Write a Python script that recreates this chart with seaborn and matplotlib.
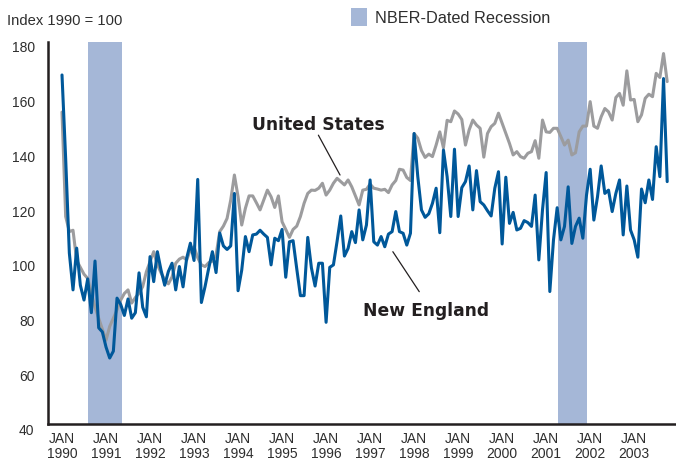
import numpy as np
import pandas as pd
import matplotlib
matplotlib.use("Agg")
import matplotlib.pyplot as plt
import seaborn as sns
from matplotlib.patches import Patch

# ---------------- data ----------------
years = list(range(1990, 2004))
tick_labels = [f"JAN\n{y}" for y in years]
y_ticks = [60, 80, 100, 120, 140, 160, 180]

# recession spans, in months since Jan 1990
recession_spans = [(7.1, 16.4), (135.3, 143.1)]

new_england = [
    169.5, 139, 104.7, 91.3, 106.5, 93, 87.6, 95.3, 83, 101.8, 77.5, 76,
    70.5, 66.5, 69, 88.3, 86, 82, 88, 81, 83, 97.5, 85, 81.5,
    103.4, 94.3, 105.2, 98.5, 93, 98, 101, 91.3, 99.8, 92.4, 102.9, 108.3,
    102, 131.5, 86.7, 92.5, 99.2, 105.2, 97.6, 112, 107.3, 106, 107.3, 126.4,
    91, 98.5, 110.7, 105.2, 111.3, 111.6, 113, 111.6, 110.4, 100.4, 110.1, 109.2,
    113.3, 95.9, 108.8, 109.2, 99, 89.2, 89.2, 110.4, 99.3, 92.7, 101, 101,
    79.5, 99.5, 100.4, 109, 118.2, 103.6, 106.4, 112.5, 108.5, 120.4, 109.5, 114.9,
    131.3, 108.8, 107.6, 110.7, 107, 111.6, 112.5, 119.8, 112.5, 111.9, 107.6, 111.9,
    148.2, 132.5, 120.4, 117.7, 119, 122.8, 128.3, 112.1, 142.2, 132.5, 118, 142.5,
    118, 128.5, 130.7, 136.4, 120.4, 134.7, 123.4, 122.2, 120.1, 118.2, 128.3, 134.3,
    108, 132.3, 115.5, 119.5, 113.1, 113.7, 116.5, 115.8, 114.4, 125.8, 102.2, 120.4,
    134, 90.7, 109.5, 121.2, 109.5, 114.4, 128.8, 108.2, 114.4, 117.4, 110.1, 125.8,
    135.2, 116.7, 125.2, 136.4, 126.4, 127.6, 119.8, 126.4, 131.3, 111.3, 129.1, 113.1,
    109.5, 103.2, 128, 123, 131.3, 124.2, 143.4, 132.5, 168.2, 130.7,
]

united_states = [
    156, 118, 112.5, 113, 102, 99.5, 97, 95.5, 90, 85, 81, 77,
    73, 78, 81, 84, 87.6, 90, 91.3, 86.5, 88.5, 90.1, 92.5, 97.9,
    101.5, 105.2, 100.5, 97.5, 95, 93.5, 96, 101, 102.5, 103.2, 102.2, 106,
    107, 103, 100.4, 99.8, 101.2, 101.8, 104, 112.5, 114.5, 117.3, 124, 133.1,
    125.2, 114.9, 121, 125.5, 125.5, 123, 120.4, 124, 127.6, 125.2, 121.3, 125.5,
    116.1, 113.3, 110.4, 113.3, 114.5, 118, 122.8, 126.4, 127.6, 127.5, 128.3, 130.1,
    125.8, 127.6, 130.1, 131.9, 130.7, 129.5, 131.3, 128.8, 125.5, 122.2, 127.6, 127.9,
    129.8, 128.3, 128, 127.6, 127.9, 126.7, 129.5, 131.1, 135.2, 134.9, 132.2, 131.1,
    148.2, 146.5, 142, 139.5, 140.7, 139.8, 144, 148.8, 143, 153, 152.5, 156.4,
    155.3, 153.3, 144, 149.5, 153.1, 151.3, 150.1, 139.6, 148.2, 150.7, 151.9, 155.6,
    151.9, 148.2, 144.6, 140.4, 141.6, 139.8, 139.2, 141, 141.6, 145.6, 139.2, 153.1,
    148.8, 148.6, 150.1, 150.1, 147.1, 144, 145.8, 140.4, 141.2, 148.8, 150.9, 150.9,
    159.8, 150.9, 150.1, 154.3, 157.3, 156.1, 153.1, 161.3, 162.8, 158.5, 171, 160.4,
    160.6, 152.5, 155, 161, 162.5, 161.6, 170.1, 168.6, 177.3, 167.1,
]

# ---------------- style ----------------
BLUE = "#00589a"
GRAY = "#9c9c9e"
REC = "#a5b7d7"
DARK = "#231f20"
TEXT = "#2e2e2e"

sns.set_style("white")
plt.rcParams["font.family"] = ["Liberation Sans", "DejaVu Sans"]

n = len(new_england)
months = np.arange(n)
df = pd.DataFrame({
    "month": np.concatenate([months, months]),
    "value": united_states + new_england,
    "series": ["United States"] * n + ["New England"] * n,
})

W, H = 676, 462
fig = plt.figure(figsize=(W / 100, H / 100), dpi=100)
ax = fig.add_axes([47.7 / W, (H - 424) / H, (W - 47.7) / W, (424 - 42) / H])

for a, b in recession_spans:
    ax.axvspan(a, b, color=REC, lw=0, zorder=1)

sns.lineplot(data=df, x="month", y="value", hue="series",
             hue_order=["United States", "New England"],
             palette={"United States": GRAY, "New England": BLUE},
             linewidth=2.2, legend=False, ax=ax, zorder=3)

ax.set_xlim(-3.9, 167.4)
ax.set_ylim(42.5, 181.5)
ax.set_xlabel("")
ax.set_ylabel("")

ax.set_xticks([12 * i for i in range(len(years))])
ax.set_xticklabels(tick_labels, fontsize=10, color=TEXT, linespacing=1.1)
ax.set_yticks(y_ticks)
ax.set_yticklabels([str(v) for v in y_ticks], fontsize=10, color=TEXT)

ax.tick_params(axis="x", direction="in", length=7.7, width=1.1, color=DARK, pad=5.5)
ax.tick_params(axis="y", direction="out", length=4.3, width=1.1, color=DARK, pad=5.0)

for s in ["top", "right"]:
    ax.spines[s].set_visible(False)
for s in ["left", "bottom"]:
    ax.spines[s].set_color(DARK)
    ax.spines[s].set_linewidth(1.8)

# "40" label sits below the axis line
ax.text(-0.0213, 40, "40", transform=ax.get_yaxis_transform(), ha="right",
        va="center", fontsize=10, color=TEXT, clip_on=False)

# axis caption
fig.text(7.3 / W, 1 - 25 / H, "Index 1990 = 100", fontsize=10.6, color=TEXT,
         ha="left", va="baseline")

# legend
fig.legend(handles=[Patch(facecolor=REC, edgecolor="none")],
           labels=["NBER-Dated Recession"], loc="upper left",
           bbox_to_anchor=(351 / W, 1 - 8.3 / H), frameon=False,
           borderpad=0, borderaxespad=0, handlelength=0.97, handleheight=1.3,
           handletextpad=0.5, fontsize=11.7, labelcolor=TEXT)

# series labels with leader lines
ax.text(69.95, 149.45, "United States", fontsize=12.3, fontweight="bold",
        family="DejaVu Sans", color=DARK, ha="center", va="baseline")
ax.annotate("", xy=(75.8, 133.1), xytext=(69.9, 147.6),
            arrowprops=dict(arrowstyle="-", color=DARK, lw=0.9,
                            shrinkA=0, shrinkB=0), zorder=4)

ax.text(99.2, 81.8, "New England", fontsize=12.3, fontweight="bold",
        family="DejaVu Sans", color=DARK, ha="center", va="baseline")
ax.annotate("", xy=(90.2, 105.2), xytext=(97.4, 90.65),
            arrowprops=dict(arrowstyle="-", color=DARK, lw=0.9,
                            shrinkA=0, shrinkB=0), zorder=4)

fig.savefig("out.png", dpi=100)
